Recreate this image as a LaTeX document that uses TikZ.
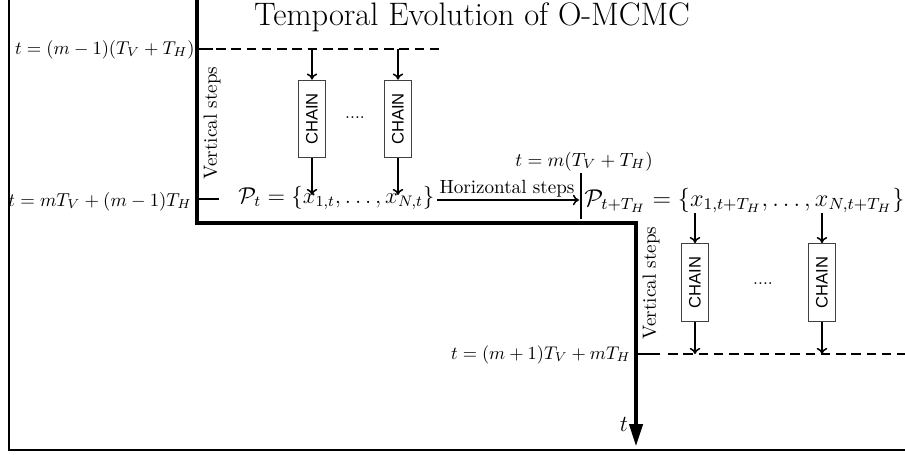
\documentclass[tikz,border=0pt]{standalone}
\usepackage{fontspec}
\newfontfamily\chainfont{Liberation Sans}
\usetikzlibrary{arrows.meta}
\begin{document}
\begin{tikzpicture}[x=0.5236pt,y=-0.5236pt,
  every node/.style={inner sep=0pt},
  frameline/.style={line width=1.3pt},
  stair/.style={line width=1.6pt},
  thinline/.style={line width=0.8pt},
  conn/.style={line width=0.8pt,-{To[length=3.2pt,width=5.5pt]}},
  dashline/.style={line width=0.8pt,dash pattern=on 5pt off 3pt},
  chainbox/.style={draw=black!75,line width=0.5pt,minimum width=14.1pt,minimum height=40.8pt},
  chaintext/.style={font=\chainfont\fontsize{8.7}{10}\selectfont}]
\useasboundingbox (0,0) rectangle (905,454);

% outer frame
\draw[frameline] (9,0) -- (9,450) -- (905,450);

% title
\node[anchor=base] (title) at (472,25) {\scalebox{0.985}{\LARGE Temporal Evolution of O-MCMC}};

% staircase time axis
\coordinate (s0) at (197,0);
\coordinate (s1) at (197,223);
\coordinate (s2) at (636,223);
\coordinate (s3) at (636,446);
\draw[stair,-{Triangle[length=11.5pt,width=7pt]}] (s0) -- (s1) -- (s2) -- (s3);
\node (tlab) at (624,424) {\large $t$};

% time labels
\node[anchor=base east] (l1) at (195,54) {\scalebox{0.97}{$t=(m-1)(T_V+T_H)$}};
\node[anchor=base east] (l2) at (192,206) {\scalebox{0.98}{$t=mT_V+(m-1)T_H$}};
\node[anchor=base east] (l3) at (631,359) {\scalebox{0.96}{$t=(m+1)T_V+mT_H$}};
\node[anchor=base] (l4) at (584,166) {$t=m(T_V+T_H)$};

% ticks and dashed lines
\coordinate (k1a) at (197,49); \coordinate (k1b) at (213,49);
\coordinate (k1c) at (216,49); \coordinate (k1d) at (440,49);
\draw[thinline] (k1a) -- (k1b);
\draw[dashline] (k1c) -- (k1d);
\coordinate (k2a) at (197,199); \coordinate (k2b) at (219,199);
\draw[thinline] (k2a) -- (k2b);
\coordinate (k3a) at (637,354); \coordinate (k3b) at (660,354);
\coordinate (k3c) at (668,354); \coordinate (k3d) at (905,354);
\draw[thinline] (k3a) -- (k3b);
\draw[dashline] (k3c) -- (k3d);
\coordinate (v1) at (581,173); \coordinate (v2) at (581,219);
\draw[thinline] (v1) -- (v2);

% vertical step labels
\node[rotate=90] (vs1) at (212,123) {Vertical steps};
\node[rotate=90] (vs2) at (651,283) {Vertical steps};

% populations
\node[anchor=base west] (Pt) at (238,203) {\large $\mathcal{P}_t=\{x_{1,t},\ldots,x_{N,t}\}$};
\node[anchor=base west] (Ptt) at (584,206) {\scalebox{1.06}{\large $\mathcal{P}_{t+T_H}=\{x_{1,t+T_H},\ldots,x_{N,t+T_H}\}$}};

% horizontal steps
\coordinate (h1) at (437,200); \coordinate (h2) at (579,200);
\draw[conn] (h1) -- (h2);
\node[anchor=base] (hs) at (507,193) {Horizontal steps};

% upper chains
\node[chainbox] (c1) at (312,119) {\rotatebox{90}{\chainfont\fontsize{8.7}{10}\selectfont CHAIN}};
\node[chainbox] (c2) at (398,119) {\rotatebox{90}{\chainfont\fontsize{8.7}{10}\selectfont CHAIN}};
\node (dots1) at (355,118) {\small ....};
\coordinate (d1) at (312,49); \coordinate (d2) at (398,49);
\coordinate (p1) at (312,195); \coordinate (p2) at (398,195);
\draw[conn] (d1) -- (c1.north);
\draw[conn] (d2) -- (c2.north);
\draw[conn] (c1.south) -- (p1);
\draw[conn] (c2.south) -- (p2);

% lower chains
\node[chainbox] (c3) at (695,282.5) {\rotatebox{90}{\chainfont\fontsize{8.7}{10}\selectfont CHAIN}};
\node[chainbox] (c4) at (822,282.5) {\rotatebox{90}{\chainfont\fontsize{8.7}{10}\selectfont CHAIN}};
\node (dots2) at (763,284) {\small ....};
\coordinate (q1) at (695,213); \coordinate (q2) at (822,213);
\coordinate (e1) at (695,354); \coordinate (e2) at (822,354);
\draw[conn] (q1) -- (c3.north);
\draw[conn] (q2) -- (c4.north);
\draw[conn] (c3.south) -- (e1);
\draw[conn] (c4.south) -- (e2);
\end{tikzpicture}
\end{document}
